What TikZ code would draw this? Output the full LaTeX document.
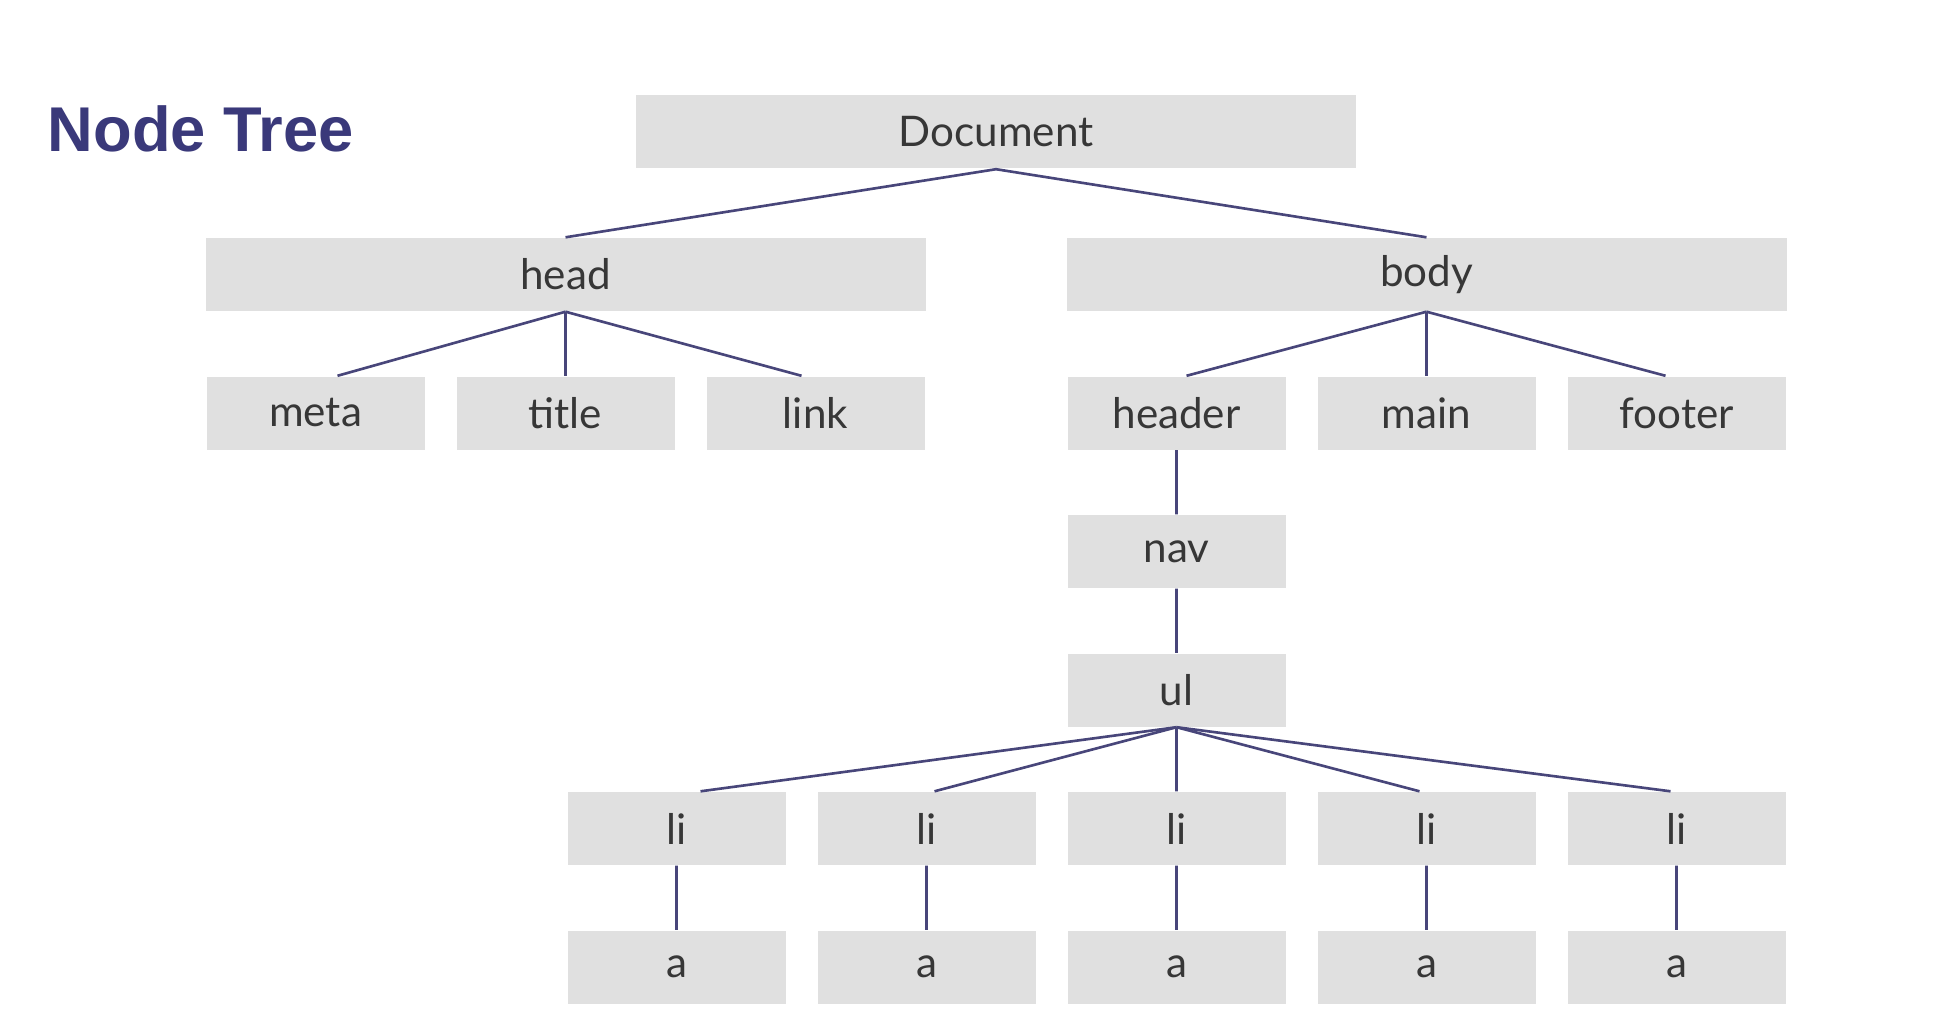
\documentclass[tikz,border=0pt]{standalone}
\usepackage{fontspec}
\setmainfont{Lato}
\newfontfamily\titlefont{Liberation Sans}
\definecolor{boxgray}{RGB}{224,224,224}
\definecolor{edgeblue}{RGB}{72,70,122}
\definecolor{titleblue}{RGB}{58,57,122}
\definecolor{textgray}{RGB}{55,55,55}
\begin{document}
\begin{tikzpicture}[
        level 1/.style={sibling distance=86.1mm,level distance=14.25mm},
        level 2/.style={sibling distance=25mm,level distance=13.85mm},
        level 5/.style={sibling distance=25mm},
        treebox/.style={rectangle,fill=boxgray,minimum width=21.8mm,minimum height=7.3mm,
            inner sep=0pt,text=textgray,font=\fontsize{12}{14}\selectfont},
        every child node/.style={treebox},
        edge from parent/.style={draw=edgeblue,line width=0.75pt},
        every child/.style={edge from parent path={(\tikzparentnode.south) -- (\tikzchildnode.north)}},
        shifted/.style={edge from parent path={(\tikzparentnode.south) -- ([xshift=#1]\tikzchildnode.north)}}]
    \useasboundingbox (0,0) rectangle (195.2mm,-102.2mm);
    \node[anchor=west,inner sep=0pt,text=titleblue,font=\titlefont\bfseries\fontsize{18}{20}\selectfont]
        (title) at (4.7mm,-12.9mm) {Node Tree};
    \node[treebox,minimum width=72mm] (doc) at (99.6mm,-13.2mm) {Document}
        child {node[minimum width=72mm] (head) {head}
            child[shifted=2.2mm] {node (meta) {meta}}
            child {node (title) {title}}
            child[shifted=-1.4mm] {node (link) {link}}
        }
        child {node[minimum width=72mm] (body) {body}
            child[shifted=1mm] {node (header) {header}
                child {node (nav) {nav}
                    child {node (ul) {ul}
                        child[shifted=2.4mm] {node (li1) {li} child {node (a1) {a}}}
                        child[shifted=0.8mm] {node (li2) {li} child {node (a2) {a}}}
                        child {node (li3) {li} child {node (a3) {a}}}
                        child[shifted=-0.7mm] {node (li4) {li} child {node (a4) {a}}}
                        child[shifted=-0.6mm] {node (li5) {li} child {node (a5) {a}}}
                    }
                }
            }
            child {node (main) {main}}
            child[shifted=-1.1mm] {node (footer) {footer}}
        };
\end{tikzpicture}
\end{document}
